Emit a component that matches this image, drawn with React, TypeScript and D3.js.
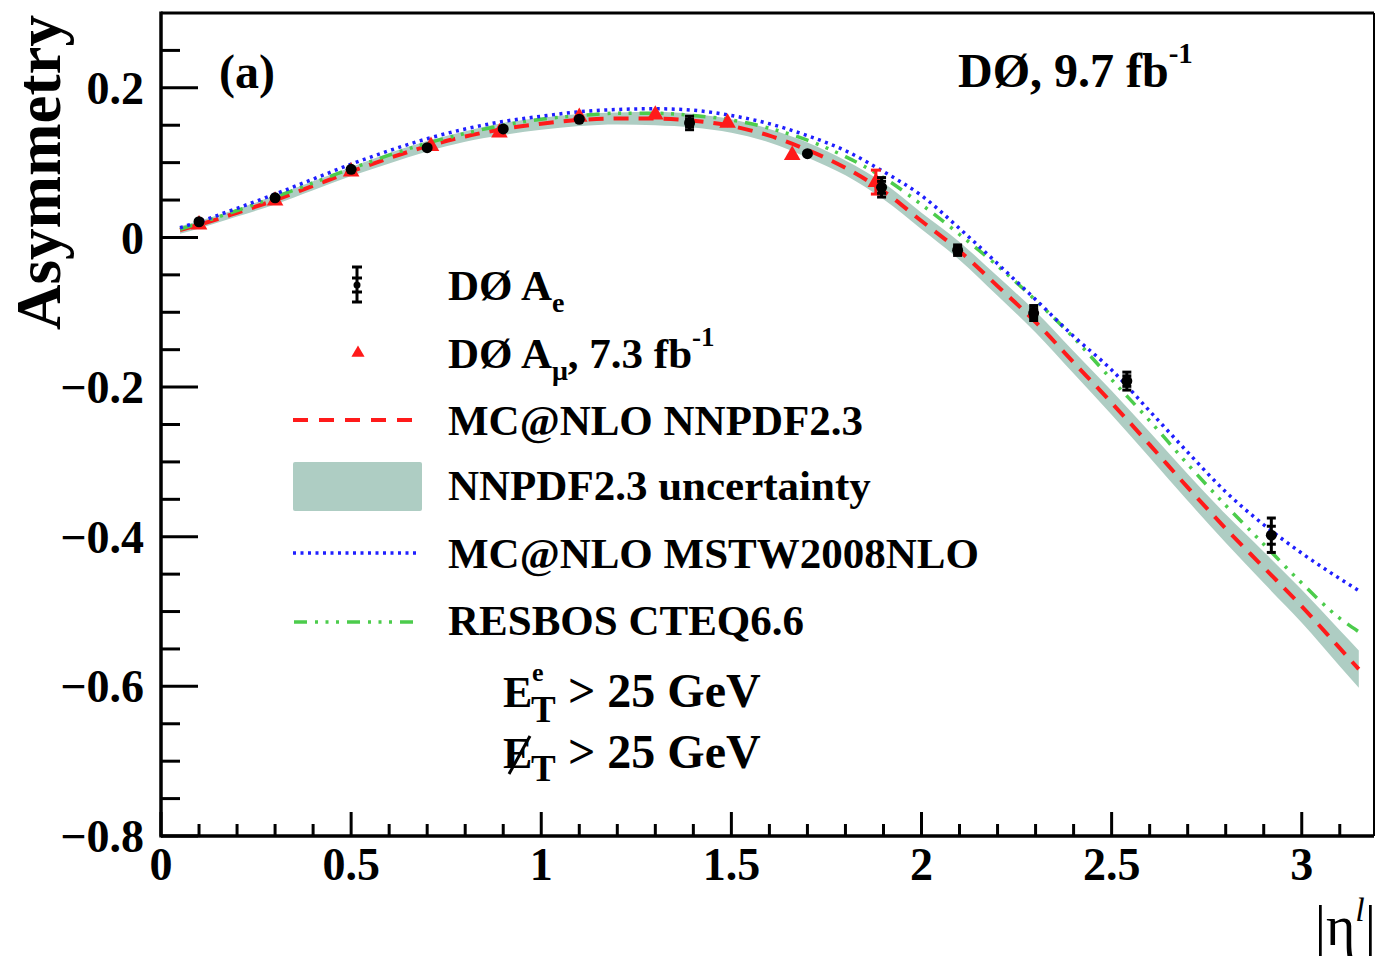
import { useEffect, useRef } from 'react';
import * as d3 from 'd3';

// theory curves on a common |eta| grid
const curveEta = [0.05, 0.1, 0.2, 0.3, 0.4, 0.5, 0.6, 0.7, 0.8, 0.9, 1.0, 1.1, 1.2, 1.3, 1.4, 1.5, 1.6, 1.7, 1.8, 1.9, 2.0, 2.1, 2.2, 2.3, 2.4, 2.5, 2.6, 2.7, 2.8, 2.9, 3.0, 3.1, 3.15];
const nnpdf = [0.010, 0.017, 0.033, 0.050, 0.069, 0.088, 0.106, 0.122, 0.135, 0.145, 0.152, 0.157, 0.159, 0.159, 0.156, 0.149, 0.136, 0.117, 0.093, 0.062, 0.022, -0.018, -0.065, -0.113, -0.167, -0.221, -0.277, -0.334, -0.389, -0.441, -0.493, -0.549, -0.577];
const nnpdfLow = [0.005, 0.012, 0.028, 0.044, 0.063, 0.082, 0.099, 0.115, 0.128, 0.137, 0.144, 0.149, 0.151, 0.150, 0.147, 0.140, 0.127, 0.107, 0.083, 0.051, 0.011, -0.030, -0.078, -0.127, -0.182, -0.237, -0.294, -0.352, -0.408, -0.462, -0.515, -0.573, -0.602];
const nnpdfHigh = [0.015, 0.022, 0.038, 0.056, 0.075, 0.094, 0.113, 0.129, 0.142, 0.153, 0.160, 0.165, 0.167, 0.168, 0.165, 0.158, 0.145, 0.127, 0.103, 0.073, 0.033, -0.006, -0.052, -0.099, -0.152, -0.205, -0.260, -0.316, -0.370, -0.420, -0.471, -0.525, -0.552];
const mstw = [0.013, 0.021, 0.039, 0.058, 0.078, 0.098, 0.116, 0.132, 0.145, 0.155, 0.162, 0.168, 0.171, 0.172, 0.170, 0.163, 0.152, 0.136, 0.116, 0.088, 0.056, 0.012, -0.035, -0.083, -0.132, -0.177, -0.232, -0.287, -0.340, -0.384, -0.422, -0.456, -0.472];
const resbos = [0.011, 0.019, 0.036, 0.054, 0.073, 0.092, 0.110, 0.126, 0.139, 0.150, 0.158, 0.163, 0.166, 0.166, 0.163, 0.157, 0.146, 0.130, 0.108, 0.080, 0.044, 0.004, -0.038, -0.084, -0.134, -0.190, -0.245, -0.303, -0.358, -0.410, -0.462, -0.509, -0.527];

// D0 electron asymmetry
const eEta = [0.1, 0.3, 0.5, 0.7, 0.9, 1.1, 1.39, 1.7, 1.895, 2.095, 2.295, 2.54, 2.92];
const eAsym = [0.021, 0.053, 0.091, 0.120, 0.145, 0.158, 0.153, 0.112, 0.067, -0.017, -0.101, -0.192, -0.398];
const eErrStat = [0.002, 0.002, 0.002, 0.002, 0.002, 0.002, 0.005, 0.003, 0.008, 0.004, 0.006, 0.007, 0.012];
const eErrTot = [0.004, 0.004, 0.004, 0.004, 0.004, 0.004, 0.009, 0.005, 0.013, 0.007, 0.010, 0.012, 0.023];

// D0 muon asymmetry, 7.3 fb-1
const muEta = [0.1, 0.3, 0.5, 0.71, 0.89, 1.1, 1.3, 1.49, 1.66, 1.88];
const muAsym = [0.017, 0.049, 0.088, 0.122, 0.140, 0.161, 0.164, 0.153, 0.110, 0.074];
const muErr = [0.003, 0.003, 0.003, 0.003, 0.003, 0.004, 0.004, 0.005, 0.007, 0.016];

const xMajor = [0, 0.5, 1, 1.5, 2, 2.5, 3];
const xTickLabels = ['0', '0.5', '1', '1.5', '2', '2.5', '3'];
const yMajor = [-0.8, -0.6, -0.4, -0.2, 0, 0.2];
const yTickLabels = ['\u22120.8', '\u22120.6', '\u22120.4', '\u22120.2', '0', '0.2'];

const FONT = '"Liberation Serif", "Times New Roman", serif';
const RED = '#ff1a1a';
const BLUE = '#1f1fff';
const GREEN = '#4ccc4c';
const BAND = '#aecdc3';

export default function App() {
  const svgRef = useRef<SVGSVGElement>(null);

  useEffect(() => {
    document.body.style.margin = '0';
    const svg = d3.select(svgRef.current);
    svg.selectAll('*').remove();

    const left = 161, right = 1374, top = 13, bottom = 836;
    const x = d3.scaleLinear().domain([0, 3.19]).range([left, right]);
    const y = d3.scaleLinear().domain([-0.8, 0.3]).range([bottom, top]);

    svg.append('rect').attr('width', 1376).attr('height', 956).attr('fill', '#fff');

    // uncertainty band
    const band = d3
      .area<number>()
      .x((_, i) => x(curveEta[i]))
      .y0((d) => y(d))
      .y1((_, i) => y(nnpdfHigh[i]))
      .curve(d3.curveMonotoneX);
    svg.append('path').datum(nnpdfLow).attr('d', band).attr('fill', BAND);

    const line = d3
      .line<number>()
      .x((_, i) => x(curveEta[i]))
      .y((d) => y(d))
      .curve(d3.curveMonotoneX);

    svg.append('path').datum(nnpdf).attr('d', line).attr('fill', 'none')
      .attr('stroke', RED).attr('stroke-width', 4).attr('stroke-dasharray', '15,10');
    svg.append('path').datum(resbos).attr('d', line).attr('fill', 'none')
      .attr('stroke', GREEN).attr('stroke-width', 3.5).attr('stroke-dasharray', '13,8,3,7.5,3,7.5,3,8');
    svg.append('path').datum(mstw).attr('d', line).attr('fill', 'none')
      .attr('stroke', BLUE).attr('stroke-width', 3.5).attr('stroke-dasharray', '3,4.5');

    // muon points
    const mu = svg.append('g');
    muEta.forEach((eta, i) => {
      const lo = y(muAsym[i] - muErr[i]), hi = y(muAsym[i] + muErr[i]);
      if (lo - hi > 12) {
        mu.append('line').attr('x1', x(eta)).attr('x2', x(eta)).attr('y1', lo).attr('y2', hi)
          .attr('stroke', RED).attr('stroke-width', 3);
        [lo, hi].forEach((v) => {
          mu.append('line').attr('x1', x(eta) - 5).attr('x2', x(eta) + 5)
            .attr('y1', v).attr('y2', v).attr('stroke', RED).attr('stroke-width', 3);
        });
      }
      mu.append('path').attr('d', d3.symbol(d3.symbolTriangle, 120)())
        .attr('transform', `translate(${x(eta)},${y(muAsym[i])})`).attr('fill', RED);
    });

    // electron points
    const el = svg.append('g');
    eEta.forEach((eta, i) => {
      const cx = x(eta);
      const lo = y(eAsym[i] - eErrTot[i]), hi = y(eAsym[i] + eErrTot[i]);
      if (lo - hi > 8) {
        el.append('line').attr('x1', cx).attr('x2', cx).attr('y1', lo).attr('y2', hi)
          .attr('stroke', '#000').attr('stroke-width', 3);
        [eErrStat[i], eErrTot[i], -eErrStat[i], -eErrTot[i]].forEach((e) => {
          el.append('line').attr('x1', cx - 4.5).attr('x2', cx + 4.5)
            .attr('y1', y(eAsym[i] + e)).attr('y2', y(eAsym[i] + e))
            .attr('stroke', '#000').attr('stroke-width', 3);
        });
      }
      el.append('circle').attr('cx', cx).attr('cy', y(eAsym[i])).attr('r', 5.5).attr('fill', '#000');
    });

    // frame and ticks
    const ax = svg.append('g').attr('stroke', '#000');
    ax.append('line').attr('x1', left).attr('x2', right).attr('y1', top).attr('y2', top).attr('stroke-width', 3);
    ax.append('line').attr('x1', right).attr('x2', right).attr('y1', top).attr('y2', bottom).attr('stroke-width', 2);
    ax.append('line').attr('x1', left).attr('x2', left).attr('y1', top - 1.5).attr('y2', bottom + 1.5).attr('stroke-width', 3.5);
    ax.append('line').attr('x1', left).attr('x2', right).attr('y1', bottom).attr('y2', bottom).attr('stroke-width', 3.5);

    d3.range(0, 3.15, 0.1).forEach((v) => {
      const major = xMajor.some((m) => Math.abs(m - v) < 1e-6);
      ax.append('line').attr('x1', x(v)).attr('x2', x(v))
        .attr('y1', bottom).attr('y2', bottom - (major ? 24 : 12)).attr('stroke-width', 3);
    });
    d3.range(-0.8, 0.3, 0.05).forEach((v) => {
      const major = yMajor.some((m) => Math.abs(m - v) < 1e-6);
      ax.append('line').attr('x1', left).attr('x2', left + (major ? 37 : 19))
        .attr('y1', y(v)).attr('y2', y(v)).attr('stroke-width', 3);
    });

    const txt = svg.append('g').attr('font-family', FONT).attr('font-weight', 'bold').attr('fill', '#000');
    xMajor.forEach((v, i) => {
      txt.append('text').attr('x', x(v)).attr('y', 880).attr('text-anchor', 'middle')
        .attr('font-size', 46).text(xTickLabels[i]);
    });
    yMajor.forEach((v, i) => {
      txt.append('text').attr('x', 144).attr('y', y(v)).attr('dy', '0.35em').attr('text-anchor', 'end')
        .attr('font-size', 46).text(yTickLabels[i]);
    });

    // axis titles
    txt.append('text').attr('transform', 'translate(60,15) rotate(-90)').attr('text-anchor', 'end')
      .attr('font-size', 63).text('Asymmetry');
    const xt = svg.append('text').attr('x', 1376).attr('y', 945).attr('text-anchor', 'end')
      .attr('font-family', FONT).attr('font-size', 56).attr('fill', '#000');
    xt.append('tspan').text('|\u03b7');
    xt.append('tspan').attr('font-style', 'italic').attr('font-size', 34).attr('dy', -24).text('l');
    xt.append('tspan').attr('dy', 24).text('|');

    // labels
    txt.append('text').attr('x', 219).attr('y', 88).attr('font-size', 48).text('(a)');
    const lum = txt.append('text').attr('x', 958).attr('y', 87).attr('font-size', 48);
    lum.append('tspan').text('D\u00d8, 9.7 fb');
    lum.append('tspan').attr('font-size', 29).attr('dy', -24).text('-1');

    // kinematic cuts
    txt.append('text').attr('x', 503).attr('y', 707).attr('font-size', 44).text('E');
    txt.append('text').attr('x', 532).attr('y', 681).attr('font-size', 26).text('e');
    txt.append('text').attr('x', 531).attr('y', 722).attr('font-size', 37).text('T');
    txt.append('text').attr('x', 568).attr('y', 707).attr('font-size', 48).text('> 25 GeV');

    txt.append('text').attr('x', 503).attr('y', 768).attr('font-size', 44).text('E');
    txt.append('text').attr('x', 531).attr('y', 781).attr('font-size', 37).text('T');
    txt.append('text').attr('x', 568).attr('y', 768).attr('font-size', 48).text('> 25 GeV');
    svg.append('line').attr('x1', 509).attr('y1', 774).attr('x2', 530).attr('y2', 736)
      .attr('stroke', '#000').attr('stroke-width', 3);

    // legend
    const lx0 = 293, lx1 = 416, lm = 357, tx = 448;
    const rows = [300, 368, 435, 500, 568, 635];
    const lg = svg.append('g');
    const ey = rows[0] - 15;
    lg.append('line').attr('x1', lm).attr('x2', lm).attr('y1', ey - 19).attr('y2', ey + 18)
      .attr('stroke', '#000').attr('stroke-width', 3);
    [-18, -7, 7, 17].forEach((d) => {
      lg.append('line').attr('x1', lm - 5).attr('x2', lm + 5).attr('y1', ey + d).attr('y2', ey + d)
        .attr('stroke', '#000').attr('stroke-width', 3);
    });
    lg.append('circle').attr('cx', lm).attr('cy', ey).attr('r', 3.5).attr('fill', '#000');
    lg.append('path').attr('d', d3.symbol(d3.symbolTriangle, 75)())
      .attr('transform', `translate(${lm + 1},${rows[1] - 15})`).attr('fill', RED);
    lg.append('line').attr('x1', lx0).attr('x2', lx1).attr('y1', rows[2] - 15).attr('y2', rows[2] - 15)
      .attr('stroke', RED).attr('stroke-width', 4).attr('stroke-dasharray', '15,11');
    lg.append('rect').attr('x', lx0).attr('y', 462).attr('width', 129).attr('height', 49)
      .attr('rx', 2).attr('fill', BAND);
    lg.append('line').attr('x1', lx0).attr('x2', lx1 + 2).attr('y1', rows[4] - 15).attr('y2', rows[4] - 15)
      .attr('stroke', BLUE).attr('stroke-width', 3.5).attr('stroke-dasharray', '3,4.5');
    lg.append('line').attr('x1', lx0 + 1).attr('x2', lx1).attr('y1', rows[5] - 13).attr('y2', rows[5] - 13)
      .attr('stroke', GREEN).attr('stroke-width', 3.5).attr('stroke-dasharray', '13,8,3,7.5,3,7.5,3,8');

    const t1 = txt.append('text').attr('x', tx).attr('y', rows[0]).attr('font-size', 43);
    t1.append('tspan').text('D\u00d8 A');
    t1.append('tspan').attr('font-size', 28).attr('dy', 12).text('e');
    const t2 = txt.append('text').attr('x', tx).attr('y', rows[1]).attr('font-size', 43);
    t2.append('tspan').text('D\u00d8 A');
    t2.append('tspan').attr('font-size', 28).attr('dy', 12).text('\u03bc');
    t2.append('tspan').attr('dy', -12).text(', 7.3 fb');
    t2.append('tspan').attr('font-size', 27).attr('dy', -22).text('-1');
    txt.append('text').attr('x', tx).attr('y', rows[2]).attr('font-size', 43).text('MC@NLO NNPDF2.3');
    txt.append('text').attr('x', tx).attr('y', rows[3]).attr('font-size', 43).text('NNPDF2.3 uncertainty');
    txt.append('text').attr('x', tx).attr('y', rows[4]).attr('font-size', 43).text('MC@NLO MSTW2008NLO');
    txt.append('text').attr('x', tx).attr('y', rows[5]).attr('font-size', 43).text('RESBOS CTEQ6.6');
  }, []);

  return <svg ref={svgRef} width={1376} height={956} style={{ display: 'block' }} />;
}
